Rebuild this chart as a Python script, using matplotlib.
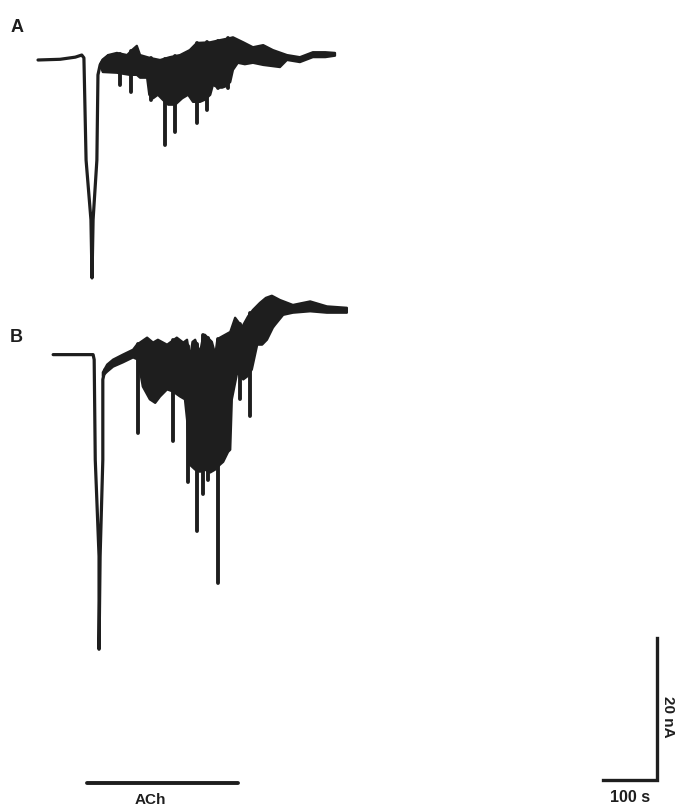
#!/usr/bin/env python3
"""ACh-evoked current traces A and B with scale bars."""

import matplotlib
matplotlib.use("Agg")
import matplotlib.pyplot as plt
import numpy as np

# time in s, current in nA (0 = holding baseline of each trace)
A_LINE_T = [0, 41, 69, 81, 85, 89, 98, 100, 102, 109, 111, 115, 120, 130]
A_LINE_I = [0, 0.1, 0.4, 0.7, 0.3, -14.1, -22.5, -30.7, -22.5, -14.1, -2.1, -0.7, 0, 0.6]

A_UP_T = [115, 120, 130, 146, 165, 174, 183, 189, 207, 226, 244, 263, 281, 294, 319,
          337, 356, 361, 380, 398, 417, 435, 461, 485, 509, 532, 550]
A_UP_I = [-0.6, 0, 0.7, 1.0, 0.7, 1.4, 2.0, 0.7, 0.3, 0, 0.4, 0.7, 1.4, 2.4, 2.5,
          2.8, 3.1, 3.2, 2.5, 1.8, 2.1, 1.4, 0.7, 0.4, 1.1, 1.1, 1.0]
A_LO_T = [115, 120, 146, 170, 183, 189, 202, 206, 213, 222, 231, 241, 254, 267, 278,
          287, 300, 309, 319, 324, 333, 341, 348, 356, 361, 370, 383, 398, 417, 448,
          461, 485, 509, 532, 550]
A_LO_I = [-0.8, -1.7, -1.8, -2.1, -2.1, -2.5, -2.5, -4.9, -5.4, -4.9, -5.6, -6.3, -6.3, -5.4, -4.9,
          -5.9, -5.9, -5.6, -4.9, -3.5, -3.9, -3.9, -3.7, -3.1, -1.4, -0.4, -0.6, -0.4, -0.7, -1.0,
          0, -0.3, 0.4, 0.4, 0.6]
A_SPIKE_T = [152, 172, 209, 235, 254, 294, 313, 333, 352]
A_SPIKE_I = [-3.5, -4.5, -5.6, -12.0, -10.1, -8.9, -7.0, -3.9, -3.9]

B_LINE_T = [28, 69, 102, 104, 106, 113, 113, 115, 120, 120, 124]
B_LINE_I = [0, 0, 0, -0.7, -14.8, -28.4, -41.5, -28.4, -14.8, -3.5, -2.1]

B_UP_T = [120, 128, 139, 157, 176, 183, 202, 213, 222, 239, 257, 269, 276, 280, 283, 286,
          291, 298, 301, 306, 309, 322, 327, 329, 332, 337, 356, 365, 378, 389, 398, 411,
          422, 433, 448, 472, 504, 535, 572]
B_UP_I = [-2.5, -1.4, -0.7, 0, 0.7, 1.4, 2.4, 1.7, 2.1, 1.4, 2.4, 1.7, 2.1, 0.3, 0.3, 1.8,
          2.1, 0.7, 0.7, 2.7, 2.8, 1.8, 0.4, 0.4, 2.1, 2.4, 3.2, 5.2, 3.9, 5.4, 6.3, 7.3,
          8.0, 8.3, 7.7, 7.0, 7.5, 6.8, 6.6]
B_LO_T = [120, 128, 139, 157, 176, 185, 194, 207, 217, 226, 239, 250, 263, 272, 276, 281,
          291, 300, 309, 319, 328, 337, 343, 352, 356, 359, 369, 380, 387, 396, 406, 415,
          424, 435, 439, 454, 472, 504, 535, 572]
B_LO_I = [-3.0, -2.4, -1.7, -1.1, -0.4, -0.7, -4.5, -6.3, -6.8, -5.9, -4.9, -5.2, -5.9, -6.3, -9.2, -15.5,
          -16.2, -16.5, -16.2, -16.6, -16.2, -15.5, -15.1, -13.7, -13.4, -6.3, -2.5, -3.5, -3.1, -2.1, 1.4, 1.4,
          2.1, 3.8, 4.2, 5.6, 5.9, 6.1, 5.9, 5.9]
B_SPIKE_T = [185, 250, 278, 294, 306, 315, 333, 374, 393]
B_SPIKE_I = [-11.0, -12.2, -18.0, -24.9, -19.7, -17.6, -32.1, -6.3, -8.7]

ACH_ON, ACH_OFF = 91, 370
SCALE_T = 100   # s
SCALE_I = 20    # nA

INK = "#1e1e1e"
B_OFFSET = -41.5


def draw_trace(ax, line_t, line_i, up_t, up_i, lo_t, lo_i, sp_t, sp_i, off):
    ax.plot(line_t, np.array(line_i) + off, color=INK, lw=2.3,
            solid_joinstyle="round", solid_capstyle="round")
    xs = list(up_t) + list(lo_t)[::-1]
    ys = list(up_i) + list(lo_i)[::-1]
    ax.fill(xs, np.array(ys) + off, color=INK, lw=1.6, ec=INK, joinstyle="round")
    for t, tip in zip(sp_t, sp_i):
        top = np.interp(t, up_t, up_i)
        ax.plot([t, t], [top + off, tip + off], color=INK, lw=2.8,
                solid_capstyle="round")


fig = plt.figure(figsize=(6.79, 8.09), dpi=100, facecolor="white")
ax = fig.add_axes([0, 0, 1, 1])
ax.set_xlim(-70.4, 1187)
ax.set_ylim(-105.5, 8.45)
ax.axis("off")

draw_trace(ax, A_LINE_T, A_LINE_I, A_UP_T, A_UP_I, A_LO_T, A_LO_I,
           A_SPIKE_T, A_SPIKE_I, 0)
draw_trace(ax, B_LINE_T, B_LINE_I, B_UP_T, B_UP_I, B_LO_T, B_LO_I,
           B_SPIKE_T, B_SPIKE_I, B_OFFSET)

# ACh application bar
ax.plot([ACH_ON, ACH_OFF], [-101.8, -101.8], color=INK, lw=2.8, solid_capstyle="round")

# scale bars
cx, cy = 1146, -101.4
ax.plot([cx - SCALE_T, cx, cx], [cy, cy, cy + SCALE_I], color=INK, lw=2.4,
        solid_joinstyle="miter")

fig.text(17 / 679, 1 - 27 / 809, "A", ha="center", va="center",
         fontsize=13, weight="bold", color=INK, family="Liberation Sans")
fig.text(16 / 679, 1 - 337 / 809, "B", ha="center", va="center",
         fontsize=13, weight="bold", color=INK, family="Liberation Sans")
fig.text(150 / 679, 1 - 800 / 809, "ACh", ha="center", va="center",
         fontsize=11, weight="bold", color=INK, family="Liberation Sans")
fig.text(630 / 679, 1 - 798 / 809, f"{SCALE_T} s", ha="center", va="center",
         fontsize=11.5, weight="bold", color=INK, family="Liberation Sans")
fig.text(668 / 679, 1 - 717 / 809, f"{SCALE_I} nA", ha="center", va="center",
         rotation=-90, fontsize=11, weight="bold", color=INK, family="Liberation Sans")

fig.savefig("out.png", dpi=100, facecolor="white")
